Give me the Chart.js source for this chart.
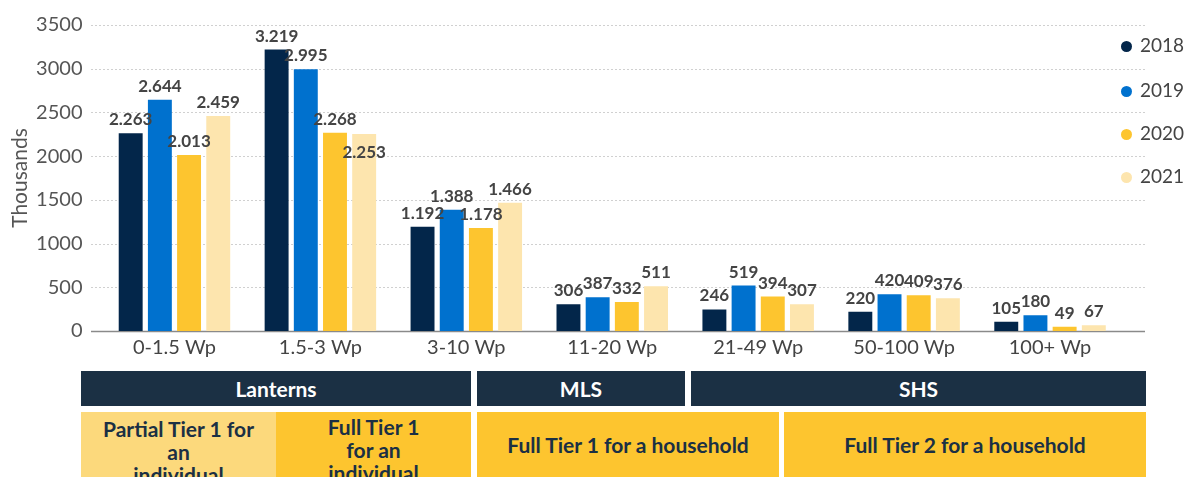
<!DOCTYPE html>
<html>
<head>
<meta charset="utf-8">
<script src="https://cdn.jsdelivr.net/npm/chart.js@4"></script>
<style>
  body { margin: 0; background: #fff; font-family: Lato, "Open Sans", sans-serif; }
  #wrap { position: relative; width: 1192px; height: 477px; overflow: hidden; }
  #chart { position: absolute; left: 0; top: 0; }
  .leg { position: absolute; left: 1121px; font-size: 19px; color: #444; line-height: 20px; }
  .leg span.dot { display: inline-block; width: 11px; height: 11px; border-radius: 50%; margin-right: 8px; vertical-align: 0px; }
  .box { position: absolute; box-sizing: border-box; display: flex; align-items: center; justify-content: center; text-align: center; font-weight: bold; }
  .head { background: #1b3044; color: #fff; font-size: 21px; top: 371px; height: 35px; }
  .tier { color: #1b3044; font-size: 21px; top: 412px; height: 80px; line-height: 23px; }
  .tier.top { align-items: flex-start; padding-top: 3px; }
</style>
</head>
<body>
<div id="wrap">
  <canvas id="chart" width="1192" height="360"></canvas>
  <div id="legend"></div>
  <div class="box head" style="left:81px;width:390px;">Lanterns</div>
  <div class="box head" style="left:477px;width:208px;">MLS</div>
  <div class="box head" style="left:691px;width:455px;">SHS</div>
  <div class="box tier top" style="left:81px;width:195px;background:#fcd97c;padding-top:5px;">Partial Tier 1 for<br>an<br>individual</div>
  <div class="box tier top" style="left:276px;width:195px;background:#fdc52f;">Full Tier 1<br>for an<br>individual</div>
  <div class="box tier" style="left:477px;width:302px;background:#fdc52f;height:65px;">Full Tier 1 for a household</div>
  <div class="box tier" style="left:784px;width:362px;background:#fdc52f;height:65px;">Full Tier 2 for a household</div>
</div>
<script>
const categories = ["0-1.5 Wp", "1.5-3 Wp", "3-10 Wp", "11-20 Wp", "21-49 Wp", "50-100 Wp", "100+ Wp"];
const years = ["2018", "2019", "2020", "2021"];
const colors = ["#03264a", "#0071ce", "#fdc52f", "#fde5ae"];

const values2018 = [2263, 3219, 1192, 306, 246, 220, 105];
const values2019 = [2644, 2995, 1388, 387, 519, 420, 180];
const values2020 = [2013, 2268, 1178, 332, 394, 409, 49];
const values2021 = [2459, 2253, 1466, 511, 307, 376, 67];
const yTicks = [0, 500, 1000, 1500, 2000, 2500, 3000, 3500];

const series = [values2018, values2019, values2020, values2021];
const FONT = "Lato, 'Open Sans', sans-serif";

// legend as html
const legendEl = document.getElementById("legend");
const legendTops = [35, 80, 123, 166];
years.forEach((y, i) => {
  const d = document.createElement("div");
  d.className = "leg";
  d.style.top = legendTops[i] + "px";
  d.innerHTML = '<span class="dot" style="background:' + colors[i] + '"></span>' + y;
  legendEl.appendChild(d);
});

const fmt = (v) => v.toLocaleString("de-DE");

const gridAndAxis = {
  id: "gridAndAxis",
  beforeDatasetsDraw(chart) {
    const ctx = chart.ctx;
    const y = chart.scales.y;
    ctx.save();
    ctx.strokeStyle = "#d0d0d0";
    ctx.lineWidth = 1;
    ctx.setLineDash([2, 2]);
    yTicks.forEach((t) => {
      if (t === 0) return;
      const py = Math.round(y.getPixelForValue(t)) + 0.5;
      ctx.beginPath();
      ctx.moveTo(91, py);
      ctx.lineTo(1145, py);
      ctx.stroke();
    });
    ctx.setLineDash([]);
    ctx.strokeStyle = "#8a8a8a";
    ctx.lineWidth = 1.5;
    const p0 = y.getPixelForValue(0) + 0.5;
    ctx.beginPath();
    ctx.moveTo(91, p0);
    ctx.lineTo(1145, p0);
    ctx.stroke();
    ctx.restore();
  },
};

// value labels above bars, pushed down when they collide with a neighbour
const barLabels = {
  id: "barLabels",
  afterDatasetsDraw(chart) {
    const ctx = chart.ctx;
    ctx.save();
    ctx.font = "bold 17px " + FONT;
    ctx.fillStyle = "#444";
    ctx.textAlign = "center";
    ctx.textBaseline = "alphabetic";
    const h = 15;
    categories.forEach((c, j) => {
      const placed = [];
      chart.data.datasets.forEach((ds, i) => {
        const bar = chart.getDatasetMeta(i).data[j];
        const text = fmt(ds.data[j]);
        const w = ctx.measureText(text).width;
        let base = bar.y - 8;
        const box = () => ({ l: bar.x - w / 2, r: bar.x + w / 2, t: base - h, b: base });
        let moved = true;
        while (moved) {
          moved = false;
          const b = box();
          for (const p of placed) {
            if (b.l < p.r - 2 && b.r > p.l + 2 && b.t < p.b && b.b > p.t) {
              base = p.b + h + 18;
              moved = true;
            }
          }
        }
        placed.push(box());
        ctx.fillText(text, bar.x, base);
      });
    });
    ctx.restore();
  },
};

new Chart(document.getElementById("chart"), {
  type: "bar",
  data: {
    labels: categories,
    datasets: years.map((y, i) => ({
      label: y,
      data: series[i],
      backgroundColor: colors[i],
    })),
  },
  options: {
    responsive: false,
    animation: false,
    layout: { padding: { top: 25, right: 69, bottom: 0, left: 0 } },
    categoryPercentage: 0.8,
    barPercentage: 0.82,
    plugins: {
      legend: { display: false },
      tooltip: { enabled: false },
    },
    scales: {
      x: {
        grid: { display: false, drawTicks: false },
        border: { display: false },
        ticks: {
          color: "#444",
          padding: 5,
          font: { size: 20, family: FONT },
        },
        afterFit(scale) {
          scale.height = 29;
          scale.paddingLeft = 0;
          scale.paddingRight = 0;
        },
      },
      y: {
        min: 0,
        max: 3500,
        grid: { display: false, drawTicks: false },
        border: { display: false },
        afterBuildTicks(scale) {
          scale.ticks = yTicks.map((v) => ({ value: v }));
        },
        ticks: {
          color: "#555",
          padding: 19,
          font: { size: 20, family: FONT },
          callback: (v) => String(v),
        },
        title: {
          display: true,
          text: "Thousands",
          color: "#555",
          padding: { top: 8, bottom: 0 },
          font: { size: 21, family: FONT },
        },
        afterFit(scale) {
          scale.width = 101.5;
          scale.paddingTop = 0;
          scale.paddingBottom = 0;
        },
      },
    },
  },
  plugins: [gridAndAxis, barLabels],
});
</script>
</body>
</html>
